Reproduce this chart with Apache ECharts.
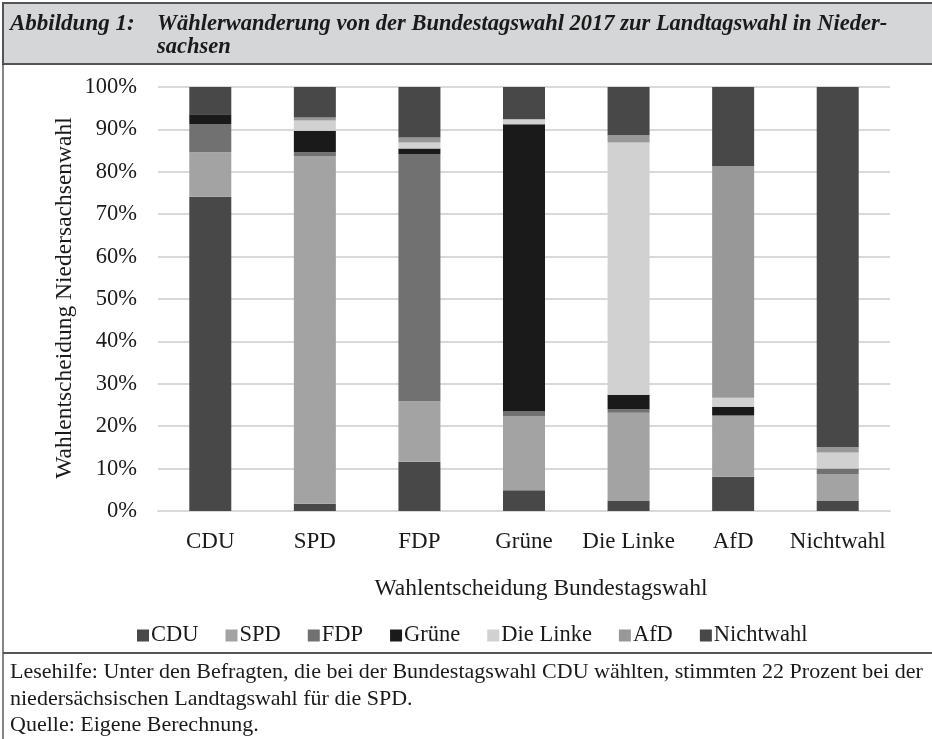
<!DOCTYPE html>
<html><head><meta charset="utf-8">
<script src="https://cdn.jsdelivr.net/npm/echarts@6/dist/echarts.min.js"></script>
<style>html,body{margin:0;padding:0;background:#fff}#c{width:932px;height:739px}</style>
</head><body><div id="c"></div>
<script>
var categories = ['CDU','SPD','FDP','Grüne','Die Linke','AfD','Nichtwahl'];
var seriesNames = ['CDU','SPD','FDP','Grüne','Die Linke','AfD','Nichtwahl'];
var cdu       = [74.1, 1.7, 11.6, 4.9, 2.5, 8.1, 2.5];
var spd       = [10.5, 82.0, 14.3, 17.5, 20.7, 14.4, 6.2];
var fdp       = [6.7, 0.9, 58.3, 1.2, 0.8, 0.0, 1.3];
var gruene    = [2.3, 5.1, 1.3, 67.6, 3.4, 2.1, 0.0];
var linke     = [0.0, 2.4, 1.4, 1.2, 59.5, 2.1, 3.8];
var afd       = [0.0, 0.7, 1.2, 0.0, 1.7, 54.6, 1.3];
var nichtwahl = [6.4, 7.2, 11.9, 7.6, 11.4, 18.7, 84.9];
var yTicks = [0,10,20,30,40,50,60,70,80,90,100];
var colors = ['#484848','#a3a3a3','#717171','#1a1a1a','#d1d1d1','#989898','#484848'];
var serif = '"Liberation Serif","DejaVu Serif",serif';
var values = [cdu, spd, fdp, gruene, linke, afd, nichtwahl];

var chart = echarts.init(document.getElementById('c'), null, {renderer:'canvas'});
var series = seriesNames.map(function(n, i){
  return {name:n, type:'bar', stack:'s', data: values[i], barWidth:42,
    itemStyle:{color:colors[i]}, emphasis:{disabled:true}};
});
chart.setOption({
  animation:false,
  textStyle:{fontFamily:serif},
  grid:{left:158, right:42, top:87, bottom:228, containLabel:false},
  legend:{
    data: seriesNames, top: 619, left:132,
    itemWidth:12, itemHeight:12, itemGap:27, icon:'rect',
    textStyle:{fontFamily:serif, fontSize:22.5, color:'#1a1a1a', padding:[2,0,0,-3]}
  },
  xAxis:{type:'category', data:categories,
    axisLine:{lineStyle:{color:'#d9d9d9', width:2}}, axisTick:{show:false},
    axisLabel:{fontFamily:serif, fontSize:23, color:'#1a1a1a', margin:19, interval:0}},
  yAxis:{type:'value', min:0, max:100, interval:10,
    axisLine:{show:false}, axisTick:{show:false},
    splitLine:{lineStyle:{color:'#d9d9d9', width:2}},
    axisLabel:{fontFamily:serif, fontSize:22.5, color:'#1a1a1a', margin:21, formatter:'{value}%'}},
  series: series,
  graphic:[
    {type:'rect', shape:{x:3,y:3,width:935,height:61}, style:{fill:'#d5d6d8', stroke:'#555', lineWidth:2}, z:-1},
    {type:'line', shape:{x1:3,y1:64,x2:3,y2:739}, style:{stroke:'#333', lineWidth:1.2}},
    {type:'line', shape:{x1:3,y1:653,x2:932,y2:653}, style:{stroke:'#555', lineWidth:2}},
    {type:'text', left:10, top:13, style:{text:'Abbildung 1:', font:'italic bold 23px '+serif, fill:'#1a1a1a'}},
    {type:'text', left:157, top:13, style:{text:'Wählerwanderung von der Bundestagswahl 2017 zur Landtagswahl in Nieder-\nsachsen', font:'italic bold 22.5px '+serif, fill:'#1a1a1a', lineHeight:23}},
    {type:'text', x:65, y:298, rotation:Math.PI/2, style:{text:'Wahlentscheidung Niedersachsenwahl', font:'23.5px '+serif, fill:'#1a1a1a', align:'center', verticalAlign:'middle'}},
    {type:'text', x:541, y:589, style:{text:'Wahlentscheidung Bundestagswahl', font:'23.5px '+serif, fill:'#1a1a1a', align:'center', verticalAlign:'middle'}},
    {type:'text', left:10, top:659, style:{text:'Lesehilfe: Unter den Befragten, die bei der Bundestagswahl CDU wählten, stimmten 22 Prozent bei der\nniedersächsischen Landtagswahl für die SPD.\nQuelle: Eigene Berechnung.', font:'22px '+serif, fill:'#1a1a1a', lineHeight:26.5}}
  ]
});
</script></body></html>
